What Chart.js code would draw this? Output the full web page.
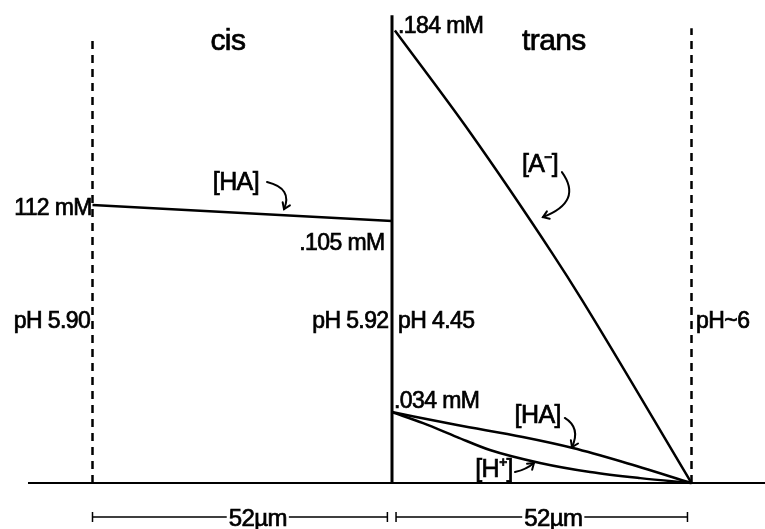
<!DOCTYPE html>
<html>
<head>
<meta charset="utf-8">
<script src="https://cdn.jsdelivr.net/npm/chart.js@4/dist/chart.umd.min.js"></script>
<style>
  html, body { margin: 0; padding: 0; background: #fff; }
  #wrap { width: 765px; height: 529px; position: relative; }
</style>
</head>
<body>
<div id="wrap"><canvas id="profile"></canvas></div>
<script>
// Distance from membrane (um), cis side is negative
const cisX = [-52, 0];
const cisHA = [0.1137, 0.1071];

// trans side profiles (mM)
const anionX = [0.5, 13.5, 27.8, 33.0, 52];
const anion = [0.185, 0.1435, 0.094, 0.0748, 0];

const transHAX = [0, 11.3, 22.7, 31.4, 40.1, 52];
const transHA = [0.029, 0.0237, 0.0188, 0.0143, 0.0086, 0];

const protonX = [0, 5.4, 11.3, 17.0, 25.7, 34.4, 43.1, 52];
const proton = [0.029, 0.0245, 0.0188, 0.0135, 0.0082, 0.0045, 0.0020, 0];

// compartment limits
const cisEdge = -52;
const transEdge = 52;
const membraneTop = 0.1913;
const cisEdgeTop = 0.1823;
const transEdgeTop = 0.186;

// tick labels / annotations
const concLabels = ['.184 mM', '112 mM', '.105 mM', '.034 mM'];
const phLabels = ['pH 5.90', 'pH 5.92', 'pH 4.45', 'pH~6'];
const speciesLabels = ['[HA]', '[A\u207B]', '[HA]', '[H\u207A]'];
const scaleLabel = '52\u00B5m';

function pts(xs, ys) {
    return xs.map((x, i) => ({ x: x, y: ys[i] }));
}

function lineSet(data, opts) {
    return Object.assign({
        data: data,
        showLine: true,
        borderColor: '#000',
        borderWidth: 2.5,
        pointRadius: 0,
        tension: 0,
        fill: false
    }, opts || {});
}

// text + arrows, placed in data units
const FONT = '"Liberation Sans", Arial, sans-serif';
const phY = 0.0634;
const texts = [
    { t: 'cis', x: -28.5, y: 0.177, size: 30, align: 'center' },
    { t: 'trans', x: 28.1, y: 0.177, size: 30, align: 'center' },
    { t: concLabels[0], x: 1.04, y: 0.184, size: 23, align: 'left' },
    { t: concLabels[1], x: -52.1, y: 0.1096, size: 23, align: 'right' },
    { t: concLabels[2], x: -1.3, y: 0.0953, size: 23, align: 'right' },
    { t: concLabels[3], x: 0.35, y: 0.0307, size: 23, align: 'left' },
    { t: phLabels[0], x: -52.4, y: phY, size: 23, align: 'right' },
    { t: phLabels[1], x: -0.6, y: phY, size: 23, align: 'right' },
    { t: phLabels[2], x: 1.04, y: phY, size: 23, align: 'left' },
    { t: phLabels[3], x: 52.8, y: phY, size: 23, align: 'left' },
    { t: speciesLabels[0], x: -27.1, y: 0.1227, size: 25, align: 'center', mid: true },
    { t: speciesLabels[1], x: 25.7, y: 0.130, size: 25, align: 'center', mid: true },
    { t: speciesLabels[2], x: 25.3, y: 0.0274, size: 25, align: 'center', mid: true },
    { t: speciesLabels[3], x: 17.7, y: 0.0053, size: 25, align: 'center', mid: true }
];

const arrows = [
    { s: [-21.7, 0.1231], c: [-17.2, 0.1205], e: [-18.75, 0.1120] },
    { s: [29.5, 0.1271], c: [33.2, 0.1150], e: [26.2, 0.1087] },
    { s: [30.0, 0.0266], c: [32.8, 0.0225], e: [31.25, 0.0147] },
    { s: [21.35, 0.0045], c: [23.3, 0.0055], e: [24.65, 0.0082] }
];

const scaleBars = [
    { from: -52, to: -0.8, mid: -23.3 },
    { from: 0.7, to: 51.3, mid: 28.0 }
];
const scaleBarY = -0.0139;

function drawText(ctx, t, x, y) {
    ctx.fillText(t, x, y);
    ctx.strokeText(t, x, y);
}

const annotate = {
    id: 'annotate',
    afterDatasetsDraw(chart) {
        const ctx = chart.ctx;
        const xs = chart.scales.x, ys = chart.scales.y;
        ctx.save();
        ctx.fillStyle = '#000';
        ctx.strokeStyle = '#000';
        ctx.letterSpacing = '-0.6px';

        // scale bars under the axis
        const by = ys.getPixelForValue(scaleBarY);
        ctx.font = '24px ' + FONT;
        ctx.textAlign = 'center';
        ctx.textBaseline = 'middle';
        scaleBars.forEach(b => {
            const x0 = xs.getPixelForValue(b.from), x1 = xs.getPixelForValue(b.to);
            ctx.lineWidth = 1.5;
            ctx.beginPath();
            ctx.moveTo(x0, by); ctx.lineTo(x1, by);
            ctx.moveTo(x0, by - 5); ctx.lineTo(x0, by + 5);
            ctx.moveTo(x1, by - 5); ctx.lineTo(x1, by + 5);
            ctx.stroke();
            const mx = xs.getPixelForValue(b.mid);
            const w = ctx.measureText(scaleLabel).width;
            ctx.fillStyle = '#fff';
            ctx.fillRect(mx - w / 2 - 2, by - 8, w + 4, 16);
            ctx.fillStyle = '#000';
            ctx.lineWidth = 0.7;
            drawText(ctx, scaleLabel, mx, by + 2);
        });

        // labels
        ctx.lineWidth = 0.7;
        texts.forEach(l => {
            ctx.font = l.size + 'px ' + FONT;
            ctx.textAlign = l.align;
            ctx.textBaseline = l.mid ? 'middle' : 'alphabetic';
            drawText(ctx, l.t, xs.getPixelForValue(l.x), ys.getPixelForValue(l.y));
        });

        // curved pointer arrows
        ctx.lineWidth = 2;
        ctx.lineCap = 'round';
        arrows.forEach(a => {
            const sx = xs.getPixelForValue(a.s[0]), sy = ys.getPixelForValue(a.s[1]);
            const cx = xs.getPixelForValue(a.c[0]), cy = ys.getPixelForValue(a.c[1]);
            const ex = xs.getPixelForValue(a.e[0]), ey = ys.getPixelForValue(a.e[1]);
            ctx.beginPath();
            ctx.moveTo(sx, sy);
            ctx.quadraticCurveTo(cx, cy, ex, ey);
            ctx.stroke();
            const ang = Math.atan2(ey - cy, ex - cx);
            const h = 7;
            ctx.beginPath();
            ctx.moveTo(ex - h * Math.cos(ang - 0.6), ey - h * Math.sin(ang - 0.6));
            ctx.lineTo(ex, ey);
            ctx.lineTo(ex - h * Math.cos(ang + 0.6), ey - h * Math.sin(ang + 0.6));
            ctx.stroke();
        });
        ctx.restore();
    }
};

new Chart(document.getElementById('profile'), {
    type: 'scatter',
    data: {
        datasets: [
            // baseline
            lineSet([{ x: -63.2, y: 0 }, { x: 64.8, y: 0 }], { borderWidth: 2 }),
            // membrane
            lineSet([{ x: 0, y: 0 }, { x: 0, y: membraneTop }], { borderWidth: 3 }),
            // compartment edges
            lineSet([{ x: cisEdge, y: 0 }, { x: cisEdge, y: cisEdgeTop }], { borderWidth: 2.5, borderDash: [8, 6] }),
            lineSet([{ x: transEdge, y: 0 }, { x: transEdge, y: transEdgeTop }], { borderWidth: 2.5, borderDash: [8, 6] }),
            // concentration profiles
            lineSet(pts(cisX, cisHA)),
            lineSet(pts(anionX, anion), { cubicInterpolationMode: 'monotone' }),
            lineSet(pts(transHAX, transHA), { cubicInterpolationMode: 'monotone' }),
            lineSet(pts(protonX, proton), { cubicInterpolationMode: 'monotone' })
        ]
    },
    options: {
        responsive: true,
        maintainAspectRatio: false,
        animation: false,
        layout: { padding: 0 },
        plugins: { legend: { display: false }, tooltip: { enabled: false } },
        scales: {
            x: { type: 'linear', min: -68.06, max: 64.76, display: false },
            y: { type: 'linear', min: -0.0188, max: 0.1975, display: false }
        }
    },
    plugins: [annotate]
});
</script>
</body>
</html>
